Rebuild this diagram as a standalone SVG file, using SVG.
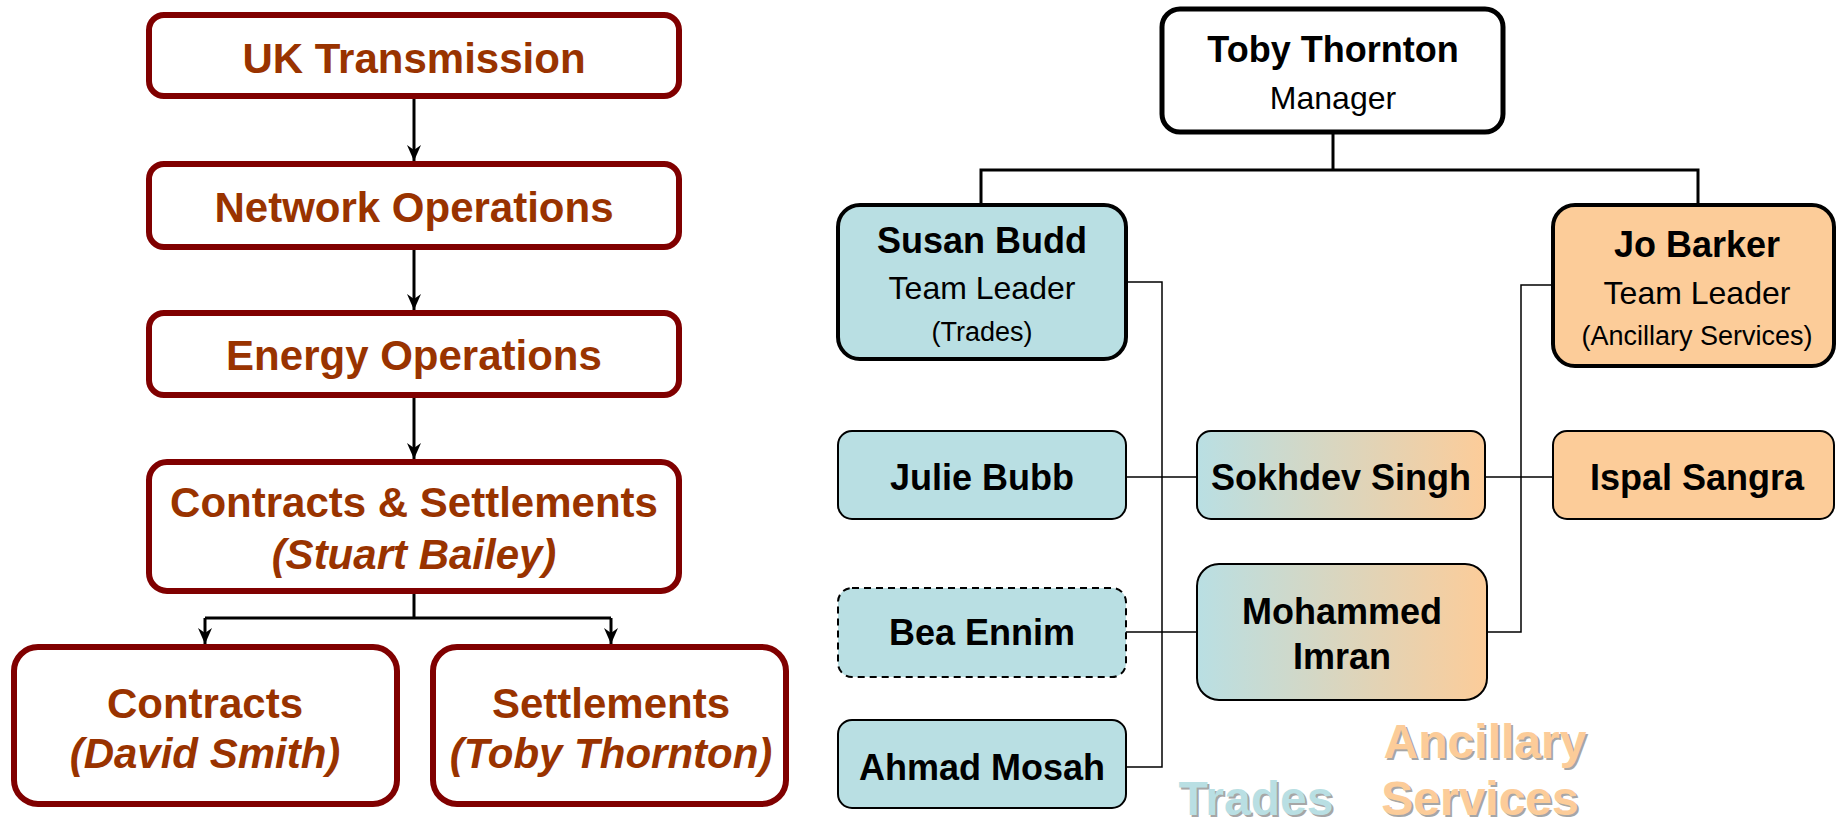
<svg xmlns="http://www.w3.org/2000/svg" width="1836" height="825" viewBox="0 0 1836 825">
<style>
.org{fill:#fff;stroke:#800000;stroke-width:6}
.ot{font-family:"Liberation Sans",Arial,sans-serif;font-weight:bold;font-size:42px;fill:#993300;text-anchor:middle}
.it{font-style:italic}
.mgr{fill:#fff;stroke:#000;stroke-width:5}
.lead{stroke:#000;stroke-width:4}
.mem{stroke:#000;stroke-width:2}
.blue{fill:#b9dfe3}
.peach{fill:#fccc99}
.grad{fill:url(#bp)}
.nb{font-family:"Liberation Sans",Arial,sans-serif;font-weight:bold;font-size:36px;fill:#000;text-anchor:middle}
.nr{font-family:"Liberation Sans",Arial,sans-serif;font-size:32px;fill:#000;text-anchor:middle}
.ns{font-family:"Liberation Sans",Arial,sans-serif;font-size:27px;fill:#000;text-anchor:middle}
.arr{stroke:#000;stroke-width:3;fill:none}
.thick{stroke:#000;stroke-width:3;fill:none}
.thin{stroke:#000;stroke-width:1.5;fill:none}
.leg{font-family:"Liberation Sans",Arial,sans-serif;font-weight:bold;font-size:48px;text-anchor:middle}
.shadow{fill:#a6a6a6}
</style>
<defs>
<linearGradient id="bp" x1="0" y1="0" x2="1" y2="0">
<stop offset="0" stop-color="#b9dfe3"/>
<stop offset="1" stop-color="#fccc99"/>
</linearGradient>
<marker id="ah" markerWidth="16" markerHeight="14" refX="16" refY="7" orient="auto" markerUnits="userSpaceOnUse" viewBox="0 0 16 14">
<path d="M0,0 L5,7 L0,14 L16,7 Z" fill="#000"/>
</marker>
</defs>

<g id="connectors">
<line class="arr" x1="414" y1="96" x2="414" y2="161" marker-end="url(#ah)"/>
<line class="arr" x1="414" y1="247" x2="414" y2="310" marker-end="url(#ah)"/>
<line class="arr" x1="414" y1="395" x2="414" y2="459" marker-end="url(#ah)"/>
<polyline class="arr" points="414,591 414,618"/>
<polyline class="arr" points="205,618 611,618"/>
<line class="arr" x1="205" y1="618" x2="205" y2="644" marker-end="url(#ah)"/>
<line class="arr" x1="611" y1="618" x2="611" y2="644" marker-end="url(#ah)"/>
<polyline class="thick" points="1333,132 1333,170"/>
<polyline class="thick" points="981,205 981,170 1698,170 1698,205"/>
<polyline class="thin" points="1126,282 1162,282 1162,767 1126,767"/>
<line class="thin" x1="1126" y1="477" x2="1197" y2="477"/>
<line class="thin" x1="1126" y1="632" x2="1197" y2="632"/>
<polyline class="thin" points="1553,285 1521,285 1521,632 1487,632"/>
<line class="thin" x1="1485" y1="477" x2="1553" y2="477"/>
</g>

<g id="uk-transmission">
<rect class="org" x="149" y="15" width="530" height="81" rx="15"/>
<text class="ot" x="414" y="73">UK Transmission</text>
</g>
<g id="network-operations">
<rect class="org" x="149" y="164" width="530" height="83" rx="15"/>
<text class="ot" x="414" y="222">Network Operations</text>
</g>
<g id="energy-operations">
<rect class="org" x="149" y="313" width="530" height="82" rx="15"/>
<text class="ot" x="414" y="370">Energy Operations</text>
</g>
<g id="contracts-settlements">
<rect class="org" x="149" y="462" width="530" height="129" rx="18"/>
<text class="ot" x="414" y="517">Contracts &amp; Settlements</text>
<text class="ot it" x="414" y="569">(Stuart Bailey)</text>
</g>
<g id="contracts">
<rect class="org" x="14" y="647" width="383" height="157" rx="24"/>
<text class="ot" x="205" y="718">Contracts</text>
<text class="ot it" x="205" y="768">(David Smith)</text>
</g>
<g id="settlements">
<rect class="org" x="433" y="647" width="353" height="157" rx="24"/>
<text class="ot" x="611" y="718">Settlements</text>
<text class="ot it" x="611" y="768">(Toby Thornton)</text>
</g>

<g id="toby-thornton">
<rect class="mgr" x="1162" y="9" width="341" height="123" rx="18"/>
<text class="nb" x="1333" y="62">Toby Thornton</text>
<text class="nr" x="1333" y="109">Manager</text>
</g>
<g id="susan-budd">
<rect class="lead blue" x="838" y="205" width="288" height="154" rx="22"/>
<text class="nb" x="982" y="253">Susan Budd</text>
<text class="nr" x="982" y="299">Team Leader</text>
<text class="ns" x="982" y="341">(Trades)</text>
</g>
<g id="jo-barker">
<rect class="lead peach" x="1553" y="205" width="281" height="161" rx="22"/>
<text class="nb" x="1697" y="257">Jo Barker</text>
<text class="nr" x="1697" y="304">Team Leader</text>
<text class="ns" x="1697" y="345">(Ancillary Services)</text>
</g>
<g id="julie-bubb">
<rect class="mem blue" x="838" y="431" width="288" height="88" rx="14"/>
<text class="nb" x="982" y="490">Julie Bubb</text>
</g>
<g id="sokhdev-singh">
<rect class="mem grad" x="1197" y="431" width="288" height="88" rx="14"/>
<text class="nb" x="1341" y="490">Sokhdev Singh</text>
</g>
<g id="ispal-sangra">
<rect class="mem peach" x="1553" y="431" width="281" height="88" rx="14"/>
<text class="nb" x="1697" y="490">Ispal Sangra</text>
</g>
<g id="bea-ennim">
<rect class="mem blue" x="838" y="588" width="288" height="89" rx="14" stroke-dasharray="7,5"/>
<text class="nb" x="982" y="645">Bea Ennim</text>
</g>
<g id="mohammed-imran">
<rect class="mem grad" x="1197" y="564" width="290" height="136" rx="22"/>
<text class="nb" x="1342" y="624">Mohammed</text>
<text class="nb" x="1342" y="669">Imran</text>
</g>
<g id="ahmad-mosah">
<rect class="mem blue" x="838" y="720" width="288" height="88" rx="14"/>
<text class="nb" x="982" y="780">Ahmad Mosah</text>
</g>

<g id="legend">
<text class="leg shadow" x="1258" y="817">Trades</text>
<text class="leg" x="1256" y="815" fill="#b9dfe3">Trades</text>
<text class="leg shadow" x="1487" y="760">Ancillary</text>
<text class="leg" x="1485" y="758" fill="#fccc99">Ancillary</text>
<text class="leg shadow" x="1482" y="817">Services</text>
<text class="leg" x="1480" y="815" fill="#fccc99">Services</text>
</g>
</svg>
